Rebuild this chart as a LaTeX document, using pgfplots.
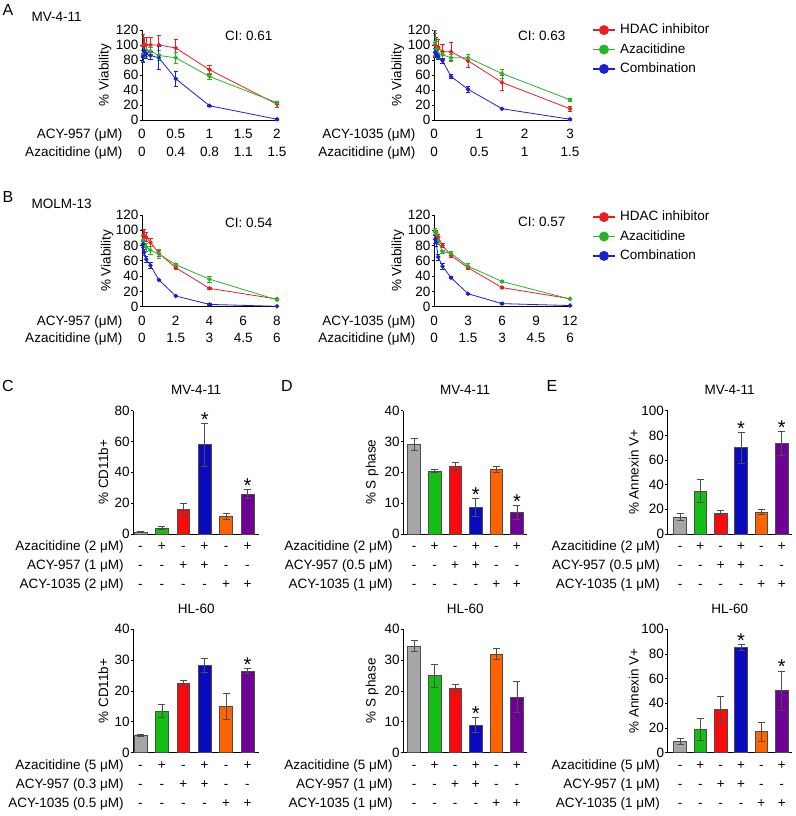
\documentclass[border=0pt]{standalone}
\usepackage{fontspec}
\setmainfont{Liberation Sans}
\usepackage{pgfplots}
\pgfplotsset{compat=1.18}

\definecolor{cred}{RGB}{235,30,35}
\definecolor{cgreen}{RGB}{40,180,40}
\definecolor{cblue}{RGB}{25,35,210}
\definecolor{bgray}{RGB}{165,165,170}
\definecolor{bgreen}{RGB}{20,190,20}
\definecolor{bred}{RGB}{250,10,10}
\definecolor{bblue}{RGB}{10,10,190}
\definecolor{borange}{RGB}{255,100,0}
\definecolor{bpurple}{RGB}{110,0,150}

\newcommand\fs{\fontsize{13.5}{16}\selectfont}
\newcommand\plab{\fontsize{16}{18}\selectfont}

\pgfplotsset{
 base/.style={scale only axis, anchor=south west, clip=false,
   axis x line*=bottom, axis y line*=left,
   axis line style={line width=0.8pt, black},
   tick style={line width=0.8pt, black},
   tick align=outside, major tick length=2.5pt,
   tick label style={font=\fs}, label style={font=\fs},
   y tick label style={inner xsep=1pt},
   title style={font=\fs, anchor=base, at={(0.5,1)}, yshift=10pt},
   /pgf/number format/assume math mode=true,
   xtick=\empty, ymin=0},
 yl/.style={ylabel style={at={(axis description cs:-#1,0.5)}, anchor=center}},
 via/.style={base, ymax=120, ytick={0,20,40,60,80,100,120}, ylabel={\% Viability}},
 ln/.style={line width=0.8pt, mark=*, mark size=1.8pt, mark options={solid},
   /pgfplots/error bars/y dir=both, /pgfplots/error bars/y explicit,
   /pgfplots/error bars/error bar style={line width=0.8pt},
   /pgfplots/error bars/error mark options={rotate=90, mark size=2.2pt, line width=0.8pt}},
 leg/.style={legend style={at={(rel axis cs:1,1)}, anchor=north west, xshift=22pt, yshift=8pt,
   draw=none, fill=none, font=\fs, row sep=3.6pt, column sep=2.5pt, inner sep=0pt, nodes={inner sep=2pt}},
   legend cell align=left,
   legend image code/.code={\draw[mark repeat=2,mark phase=2,##1,line width=1.5pt,mark size=4.2pt] plot coordinates {(0pt,0pt) (11pt,0pt) (22pt,0pt)};}},
}

% bar: colour, x, y, err
\newcommand\bb[4]{\addplot[ybar, bar width=12.7pt, bar shift=0pt, fill=#1, draw=black!70, line width=0.6pt,
  error bars/.cd, y dir=both, y explicit, error bar style={line width=0.7pt, black!70},
  error mark options={rotate=90, mark size=3.5pt, line width=0.7pt, black!70}] coordinates {(#2,#3) +- (0,#4)};}
\newcommand\sig[2]{\node[anchor=base, font=\fontsize{20}{20}\selectfont, yshift=-3pt] at (axis cs:#1,#2) {*};}
\newcommand\tn[3]{\node[anchor=base, font=\fs, yshift=#2] at (axis cs:#1,0) {#3};}
\newcommand\signrows{%
  \tn{1}{-17pt}{-}\tn{2}{-17pt}{+}\tn{3}{-17pt}{-}\tn{4}{-17pt}{+}\tn{5}{-17pt}{-}\tn{6}{-17pt}{+}%
  \tn{1}{-36pt}{-}\tn{2}{-36pt}{-}\tn{3}{-36pt}{+}\tn{4}{-36pt}{+}\tn{5}{-36pt}{-}\tn{6}{-36pt}{-}%
  \tn{1}{-55pt}{-}\tn{2}{-55pt}{-}\tn{3}{-55pt}{-}\tn{4}{-55pt}{-}\tn{5}{-55pt}{+}\tn{6}{-55pt}{+}}
% row labels: xshift, l1, l2, l3
\newcommand\rowlabels[4]{%
  \node[anchor=base east, font=\fs, xshift=#1, yshift=-17pt] at (rel axis cs:0,0) {#2};
  \node[anchor=base east, font=\fs, xshift=#1, yshift=-36pt] at (rel axis cs:0,0) {#3};
  \node[anchor=base east, font=\fs, xshift=#1, yshift=-55pt] at (rel axis cs:0,0) {#4};}
\newcommand\ci[1]{\node[anchor=east, font=\fs, yshift=-6pt] at (rel axis cs:1,1) {#1};}

\begin{document}
\begin{tikzpicture}
\useasboundingbox (0pt,0pt) rectangle (795pt,816pt);
\fs
% panel letters and captions
\node[font=\plab] at (8pt,806pt) {A};
\node[anchor=west, font=\fs] at (27pt,799pt) {MV-4-11};
\node[font=\plab] at (8pt,619pt) {B};
\node[anchor=west, font=\fs] at (27pt,612pt) {MOLM-13};
\node[font=\plab] at (8pt,430pt) {C};
\node[font=\plab] at (287pt,430pt) {D};
\node[font=\plab] at (552pt,430pt) {E};

% ---------------- A left
\begin{axis}[via, yl=0.274, at={(142pt,696pt)}, width=135pt, height=90pt, xmin=0, xmax=2]
\addplot[cred, ln] table[x=x,y=y,y error=e]{
x y e
0.0156 99 15
0.031 100 10
0.0625 100 10
0.125 100 10
0.25 100 13
0.5 96 12
1 67 6
2 21 4
};
\addplot[cgreen, ln] table[x=x,y=y,y error=e]{
x y e
0.0156 88 10
0.031 92 8
0.0625 93 8
0.125 92 5
0.25 86 7
0.5 83 7
1 58 4
2 23 2
};
\addplot[cblue, ln] table[x=x,y=y,y error=e]{
x y e
0.0156 85 8
0.031 92 6
0.0625 88 6
0.125 86 5
0.25 83 15
0.5 55 10
1 19 1
2 1 1
};
\ci{CI: 0.61}
\tn{0}{-19pt}{0}\tn{0.5}{-19pt}{0.5}\tn{1}{-19pt}{1}\tn{1.5}{-19pt}{1.5}\tn{2}{-19pt}{2}
\tn{0}{-37pt}{0}\tn{0.5}{-37pt}{0.4}\tn{1}{-37pt}{0.8}\tn{1.5}{-37pt}{1.1}\tn{2}{-37pt}{1.5}
\node[anchor=base east, font=\fs, xshift=-15pt, yshift=-19pt] at (rel axis cs:0,0) {ACY-957 (μM)};
\node[anchor=base east, font=\fs, xshift=-15pt, yshift=-37pt] at (rel axis cs:0,0) {Azacitidine (μM)};
\end{axis}

% ---------------- A right
\begin{axis}[via, yl=0.265, leg, at={(434pt,696pt)}, width=136pt, height=90pt, xmin=0, xmax=3]
\addplot[cred, ln] table[x=x,y=y,y error=e]{
x y e
0.023 100 15
0.047 98 12
0.094 97 10
0.1875 91 10
0.375 91 12
0.75 79 9
1.5 50 10
3 15 3
};
\addplot[cgreen, ln] table[x=x,y=y,y error=e]{
x y e
0.023 103 17
0.047 95 10
0.094 88 6
0.1875 87 5
0.375 83 5
0.75 83 5
1.5 62 6
3 27 2
};
\addplot[cblue, ln] table[x=x,y=y,y error=e]{
x y e
0.023 90 6
0.047 88 5
0.094 85 4
0.1875 79 3
0.375 58 3
0.75 41 4
1.5 15 1
3 1 1
};
\legend{HDAC inhibitor, Azacitidine, Combination}
\ci{CI: 0.63}
\tn{0}{-19pt}{0}\tn{1}{-19pt}{1}\tn{2}{-19pt}{2}\tn{3}{-19pt}{3}
\tn{0}{-37pt}{0}\tn{1}{-37pt}{0.5}\tn{2}{-37pt}{1}\tn{3}{-37pt}{1.5}
\node[anchor=base east, font=\fs, xshift=-14pt, yshift=-19pt] at (rel axis cs:0,0) {ACY-1035 (μM)};
\node[anchor=base east, font=\fs, xshift=-14pt, yshift=-37pt] at (rel axis cs:0,0) {Azacitidine (μM)};
\end{axis}

% ---------------- B left
\begin{axis}[via, yl=0.259, at={(142pt,509.3pt)}, width=135pt, height=91.7pt, xmin=0, xmax=8]
\addplot[cred, ln] table[x=x,y=y,y error=e]{
x y e
0.0625 93 8
0.125 93 8
0.25 91 6
0.5 84 5
1 70 4
2 51 2
4 24 1
8 10 1.5
};
\addplot[cgreen, ln] table[x=x,y=y,y error=e]{
x y e
0.0625 87 6
0.125 82 5
0.25 78 5
0.5 74 5
1 69 6
2 55 2
4 36 4
8 9 1
};
\addplot[cblue, ln] table[x=x,y=y,y error=e]{
x y e
0.0625 82 5
0.125 71 4
0.25 62 4
0.5 54 4
1 35 1
2 14 1
4 3 1
8 0.5 0.5
};
\node[anchor=east, font=\fs, yshift=-8pt] at (rel axis cs:1,1) {CI: 0.54};
\tn{0}{-18.5pt}{0}\tn{2}{-18.5pt}{2}\tn{4}{-18.5pt}{4}\tn{6}{-18.5pt}{6}\tn{8}{-18.5pt}{8}
\tn{0}{-35.5pt}{0}\tn{2}{-35.5pt}{1.5}\tn{4}{-35.5pt}{3}\tn{6}{-35.5pt}{4.5}\tn{8}{-35.5pt}{6}
\node[anchor=base east, font=\fs, xshift=-15pt, yshift=-18.5pt] at (rel axis cs:0,0) {ACY-957 (μM)};
\node[anchor=base east, font=\fs, xshift=-15pt, yshift=-35.5pt] at (rel axis cs:0,0) {Azacitidine (μM)};
\end{axis}

% ---------------- B right
\begin{axis}[via, yl=0.265, leg, at={(434pt,509.3pt)}, width=136pt, height=91.7pt, xmin=0, xmax=12,
  legend style={yshift=-2pt}]
\addplot[cred, ln] table[x=x,y=y,y error=e]{
x y e
0.094 98 4
0.1875 96 4
0.375 91 4
0.75 80 3
1.5 67 3
3 51 2
6 25 1
12 10.5 1
};
\addplot[cgreen, ln] table[x=x,y=y,y error=e]{
x y e
0.094 99 4
0.1875 95 4
0.375 85 3
0.75 72 2
1.5 70 3
3 53 3
6 33 1
12 10 1
};
\addplot[cblue, ln] table[x=x,y=y,y error=e]{
x y e
0.094 88 5
0.1875 84 5
0.375 65 4
0.75 53 4
1.5 38 1
3 17 1
6 4 1
12 1.5 0.5
};
\legend{HDAC inhibitor, Azacitidine, Combination}
\node[anchor=east, font=\fs, yshift=-7pt] at (rel axis cs:1,1) {CI: 0.57};
\tn{0}{-18.5pt}{0}\tn{3}{-18.5pt}{3}\tn{6}{-18.5pt}{6}\tn{9}{-18.5pt}{9}\tn{12}{-18.5pt}{12}
\tn{0}{-35.5pt}{0}\tn{3}{-35.5pt}{1.5}\tn{6}{-35.5pt}{3}\tn{9}{-35.5pt}{4.5}\tn{12}{-35.5pt}{6}
\node[anchor=base east, font=\fs, xshift=-14pt, yshift=-18.5pt] at (rel axis cs:0,0) {ACY-1035 (μM)};
\node[anchor=base east, font=\fs, xshift=-14pt, yshift=-35.5pt] at (rel axis cs:0,0) {Azacitidine (μM)};
\end{axis}

% ---------------- C top
\begin{axis}[base, yl=0.239, at={(133.3pt,282pt)}, width=125.7pt, height=123.3pt, xmin=0.664, xmax=6.54,
  ymax=80, ytick={0,20,40,60,80}, ylabel={\% CD11b+}, title={MV-4-11}]
\bb{bgray}{1}{1.2}{0.3}\bb{bgreen}{2}{4}{1}\bb{bred}{3}{16}{4}\bb{bblue}{4}{58}{14}\bb{borange}{5}{11.5}{2}\bb{bpurple}{6}{26}{3}
\sig{4}{72}\sig{6}{29}
\signrows
\rowlabels{-5pt}{Azacitidine (2 μM)}{ACY-957 (1 μM)}{ACY-1035 (2 μM)}
\end{axis}

% ---------------- C bottom
\begin{axis}[base, yl=0.239, at={(133.3pt,63.3pt)}, width=125.7pt, height=123.4pt, xmin=0.664, xmax=6.54,
  ymax=40, ytick={0,10,20,30,40}, ylabel={\% CD11b+}, title={HL-60}]
\bb{bgray}{1}{5.5}{0.3}\bb{bgreen}{2}{13.5}{2.2}\bb{bred}{3}{22.5}{0.9}\bb{bblue}{4}{28.3}{2.3}\bb{borange}{5}{15.1}{4.2}\bb{bpurple}{6}{26.5}{0.9}
\sig{6}{27.4}
\signrows
\rowlabels{-5pt}{Azacitidine (5 μM)}{ACY-957 (0.3 μM)}{ACY-1035 (0.5 μM)}
\end{axis}

% ---------------- D top
\begin{axis}[base, yl=0.251, at={(403.3pt,282pt)}, width=123.7pt, height=123.3pt, xmin=0.48, xmax=6.49,
  ymax=40, ytick={0,10,20,30,40}, ylabel={\% S phase}, title={MV-4-11}]
\bb{bgray}{1}{29.1}{2}\bb{bgreen}{2}{20.5}{0.6}\bb{bred}{3}{22}{1.2}\bb{bblue}{4}{8.6}{3}\bb{borange}{5}{21}{1.1}\bb{bpurple}{6}{7}{2.2}
\sig{4}{11.6}\sig{6}{9.2}
\signrows
\rowlabels{-6pt}{Azacitidine (2 μM)}{ACY-957 (0.5 μM)}{ACY-1035 (1 μM)}
\end{axis}

% ---------------- D bottom
\begin{axis}[base, yl=0.251, at={(403.3pt,63.3pt)}, width=123.7pt, height=123.4pt, xmin=0.48, xmax=6.49,
  ymax=40, ytick={0,10,20,30,40}, ylabel={\% S phase}, title={HL-60}]
\bb{bgray}{1}{34.5}{1.8}\bb{bgreen}{2}{25}{3.8}\bb{bred}{3}{20.9}{1.2}\bb{bblue}{4}{9}{2.5}\bb{borange}{5}{32}{1.9}\bb{bpurple}{6}{18}{5}
\sig{4}{11.5}
\signrows
\rowlabels{-6pt}{Azacitidine (5 μM)}{ACY-957 (1 μM)}{ACY-1035 (1 μM)}
\end{axis}

% ---------------- E top
\begin{axis}[base, yl=0.274, at={(667.7pt,282pt)}, width=124pt, height=123.3pt, xmin=0.395, xmax=6.49,
  ymax=100, ytick={0,20,40,60,80,100}, ylabel={\% Annexin V+}, title={MV-4-11}]
\bb{bgray}{1}{13.8}{3}\bb{bgreen}{2}{35}{9}\bb{bred}{3}{17}{2}\bb{bblue}{4}{70}{12.5}\bb{borange}{5}{17.8}{2}\bb{bpurple}{6}{73.5}{9.5}
\sig{4}{82.5}\sig{6}{83}
\signrows
\rowlabels{-3pt}{Azacitidine (2 μM)}{ACY-957 (0.5 μM)}{ACY-1035 (1 μM)}
\end{axis}

% ---------------- E bottom
\begin{axis}[base, yl=0.274, at={(667.7pt,63.3pt)}, width=124pt, height=123.4pt, xmin=0.395, xmax=6.49,
  ymax=100, ytick={0,20,40,60,80,100}, ylabel={\% Annexin V+}, title={HL-60}]
\bb{bgray}{1}{8.9}{2.5}\bb{bgreen}{2}{18.9}{9}\bb{bred}{3}{34.9}{10.5}\bb{bblue}{4}{85.4}{2.5}\bb{borange}{5}{17}{7.5}\bb{bpurple}{6}{50.3}{16}
\sig{4}{88}\sig{6}{66.3}
\signrows
\rowlabels{-3pt}{Azacitidine (5 μM)}{ACY-957 (1 μM)}{ACY-1035 (1 μM)}
\end{axis}
\end{tikzpicture}
\end{document}
